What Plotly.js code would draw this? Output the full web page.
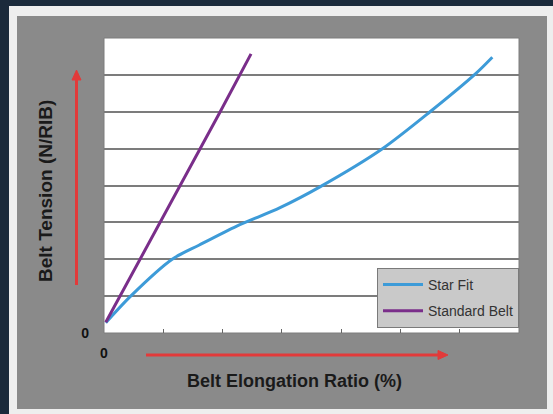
<!DOCTYPE html>
<html>
<head>
<meta charset="utf-8">
<script src="https://cdn.plot.ly/plotly-3.0.1.min.js"></script>
<style>
html,body{margin:0;padding:0;background:#1b2a3b;}
#chart{width:553px;height:414px;}
</style>
</head>
<body>
<div id="chart"></div>
<script>
// ---- data ----
var seriesNames = ["Star Fit", "Standard Belt"];
var starFitX = [0.03, 0.45, 1.15, 1.6, 2.24, 2.97, 3.65, 4.69, 5.5, 6.26, 6.55];
var starFitY = [0.28, 1.0, 2.0, 2.38, 2.9, 3.4, 3.97, 4.99, 6.0, 7.02, 7.48];
var standardX = [0.03, 0.61, 1.28, 1.96, 2.48];
var standardY = [0.29, 2.0, 4.0, 6.0, 7.57];
var xTickVals = [0, 1, 2, 3, 4, 5, 6];
var xTickText = ["0", "", "", "", "", "", ""];
var yTickVals = [0, 1, 2, 3, 4, 5, 6, 7, 8];
var yTickText = ["0", "", "", "", "", "", "", "", ""];
var xTitle = "Belt Elongation Ratio (%)";
var yTitle = "Belt Tension (N/RIB)";

// ---- layout helpers (pixel -> paper) ----
var W = 553, H = 414, ML = 104, MR = 34, MT = 38, MB = 81;
var PW = W - ML - MR, PH = H - MT - MB;
function px(x) { return (x - ML) / PW; }
function py(y) { return (H - MB - y) / PH; }
function rect(x0, y0, x1, y1, color) {
  return {type: "rect", xref: "paper", yref: "paper", layer: "below",
    x0: px(x0), x1: px(x1), y0: py(y1), y1: py(y0),
    fillcolor: color, line: {width: 0}};
}
var red = "#e23a3a";
var shapes = [
  rect(9, 6, 560, 420, "#eeeeee"),
  rect(17, 16, 547, 409, "#8a8a8a"),
  {type: "rect", xref: "paper", yref: "paper", layer: "below", x0: 0, x1: 1, y0: 0, y1: 1,
    fillcolor: "#ffffff", line: {color: "#7c7c7c", width: 1}},
  // y arrow
  {type: "line", xref: "paper", yref: "paper", x0: px(76.5), x1: px(76.5), y0: py(285), y1: py(80),
    line: {color: red, width: 3}},
  {type: "path", xref: "paper", yref: "paper",
    path: "M " + px(76.5) + " " + py(70) + " L " + px(81) + " " + py(80) + " L " + px(72) + " " + py(80) + " Z",
    fillcolor: red, line: {color: red, width: 1}},
  // x arrow
  {type: "line", xref: "paper", yref: "paper", x0: px(146), x1: px(438), y0: py(355), y1: py(355),
    line: {color: red, width: 3}},
  {type: "path", xref: "paper", yref: "paper",
    path: "M " + px(448) + " " + py(355) + " L " + px(438) + " " + py(350.5) + " L " + px(438) + " " + py(359.5) + " Z",
    fillcolor: red, line: {color: red, width: 1}}
];

var traces = [
  {x: starFitX, y: starFitY, name: seriesNames[0], mode: "lines", legendgroup: "a",
   line: {color: "#3d9bd8", width: 3, shape: "spline", smoothing: 0.8}},
  {x: standardX, y: standardY, name: seriesNames[1], mode: "lines", legendgroup: "b",
   line: {color: "#7a2e8a", width: 3}}
];

var layout = {
  width: W, height: H,
  margin: {l: ML, r: MR, t: MT, b: MB, pad: 0},
  paper_bgcolor: "#1b2a3b",
  plot_bgcolor: "#ffffff",
  font: {family: "Liberation Sans, Arial, sans-serif", color: "#1a1a1a"},
  showlegend: true,
  legend: {
    x: px(377), y: py(268), xanchor: "left", yanchor: "top",
    bgcolor: "#c9c9c9", bordercolor: "#7a7a7a", borderwidth: 1,
    font: {size: 14, color: "#333333"},
    itemwidth: 40,
    traceorder: "grouped", tracegroupgap: 5
  },
  xaxis: {
    range: [0, 7], tickvals: xTickVals, ticktext: xTickText,
    ticks: "inside", ticklen: 4, tickcolor: "#666666", tickwidth: 1,
    showgrid: false, zeroline: false, showline: false,
    ticklabelstandoff: 10,
    tickfont: {size: 14, color: "#111111", family: "Liberation Sans, Arial, sans-serif", weight: "bold"},
    fixedrange: true
  },
  yaxis: {
    range: [0, 8], tickvals: yTickVals, ticktext: yTickText,
    ticks: "", showgrid: true, gridcolor: "#7c7c7c", gridwidth: 2,
    zeroline: false, showline: false,
    ticklabelstandoff: 14,
    tickfont: {size: 14, color: "#111111", family: "Liberation Sans, Arial, sans-serif", weight: "bold"},
    fixedrange: true
  },
  shapes: shapes,
  annotations: [
    {text: "<b>" + xTitle + "</b>", xref: "paper", yref: "paper", x: px(294), y: py(381),
     xanchor: "center", yanchor: "middle", showarrow: false,
     font: {size: 18, color: "#1a1a1a"}},
    {text: "<b>" + yTitle + "</b>", xref: "paper", yref: "paper", x: px(45), y: py(191),
     xanchor: "center", yanchor: "middle", showarrow: false, textangle: -90,
     font: {size: 19, color: "#1a1a1a"}}
  ]
};

Plotly.newPlot("chart", traces, layout, {displayModeBar: false, staticPlot: true});
</script>
</body>
</html>
